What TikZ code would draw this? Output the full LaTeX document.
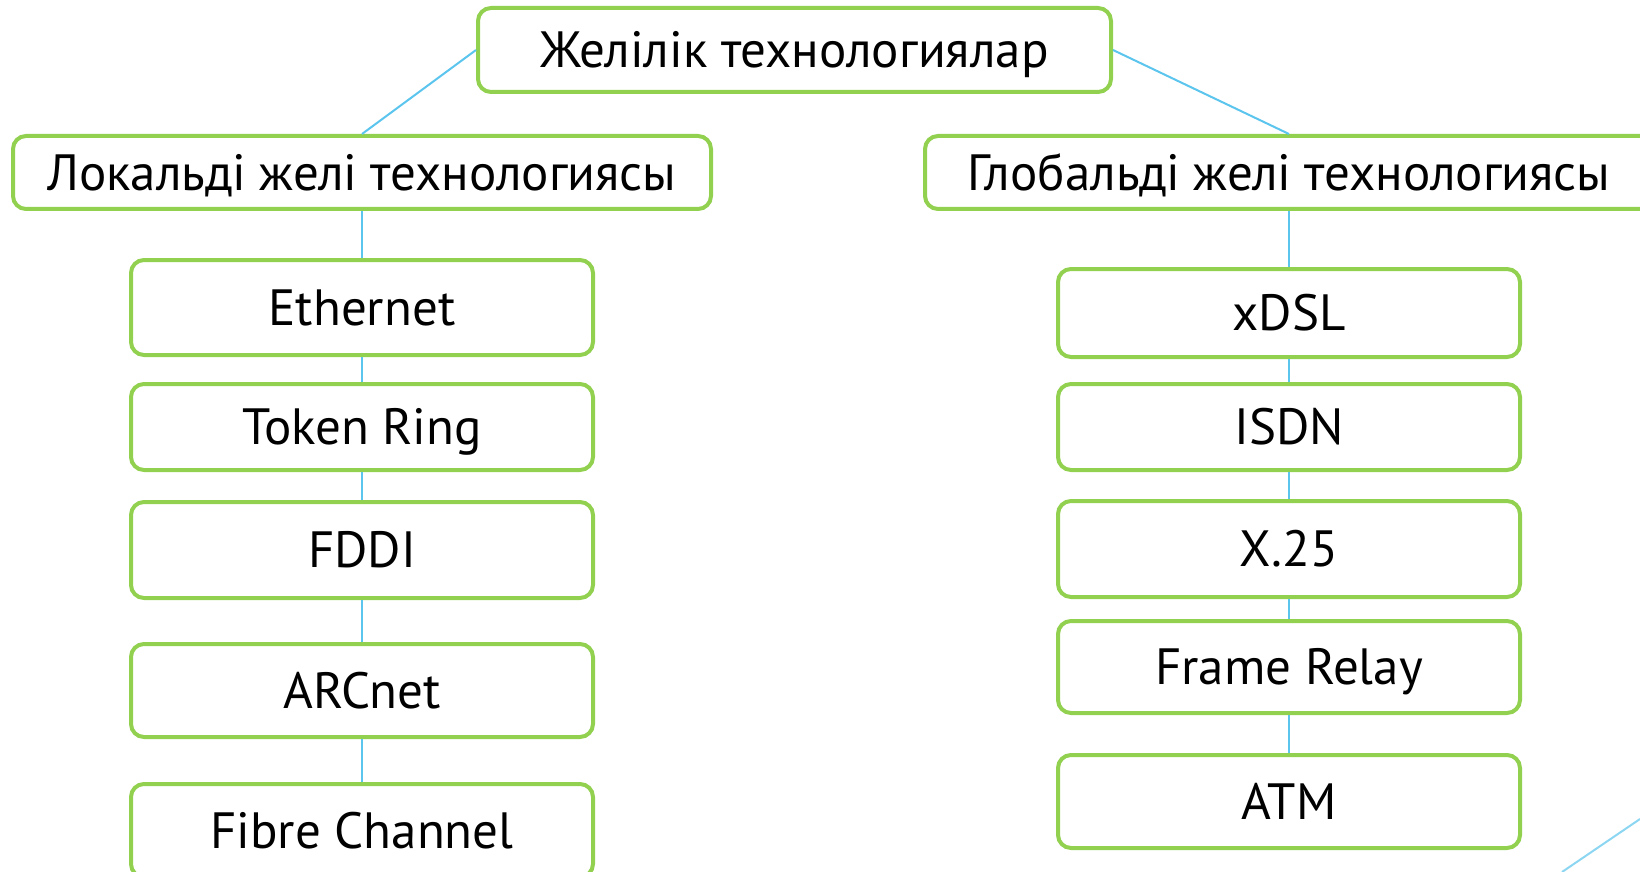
\documentclass[tikz,border=0pt]{standalone}
\usepackage{fontspec}
\setmainfont{PT Sans}
\usepackage{xcolor}
\definecolor{boxgreen}{RGB}{146,208,80}
\definecolor{linkblue}{RGB}{91,197,238}
\definecolor{decoblue}{RGB}{140,214,242}

\begin{document}
\begin{tikzpicture}[x=0.5pt,y=0.5pt,yscale=-1,xscale=1,
  techbox/.style={draw=boxgreen, line width=2pt, rounded corners=6.5pt, fill=white,
    font=\fontsize{25.5}{30}\selectfont, text height=17.8pt, text depth=0pt, inner sep=0pt},
  colbox/.style={techbox, minimum width=231pt},
  link/.style={draw=linkblue, line width=1pt}]
\useasboundingbox (0,0) rectangle (1640,872);
\clip (0,0) rectangle (1640,872);

%Shape: Rounded Rectangle [root]
\node [techbox, minimum width=316.5pt, minimum height=42pt] (zhel) at (794.5,50) {Желілік технологиялар};
%Shape: Rounded Rectangle [level 2]
\node [techbox, minimum width=349pt, minimum height=36.5pt] (lokal) at (362,172.5) {Локальді желі технологиясы};
\node [techbox, minimum width=364pt, minimum height=36.5pt] (global) at (1289,172.5) {Глобальді желі технологиясы};

%Shape: Rounded Rectangle [local column]
\node [colbox, minimum height=47.5pt] (eth) at (362,307.5) {Ethernet};
\node [colbox, minimum height=43pt] (token) at (362,427) {Token Ring};
\node [colbox, minimum height=48pt] (fddi) at (362,550) {FDDI};
\node [colbox, minimum height=46.5pt] (arc) at (362,690.5) {ARCnet};
\node [colbox, minimum height=46.5pt] (fibre) at (362,830.5) {Fibre Channel};

%Shape: Rounded Rectangle [global column]
\node [colbox, minimum height=44pt] (xdsl) at (1289,313) {xDSL};
\node [colbox, minimum height=43pt] (isdn) at (1289,427) {ISDN};
\node [colbox, minimum height=48pt] (xtf) at (1289,549) {X.25};
\node [colbox, minimum height=46pt] (frame) at (1289,667) {Frame Relay};
\node [colbox, minimum height=46.5pt] (atm) at (1289,801.5) {ATM};

%Straight Lines
\draw [link] (zhel.west) -- (lokal.north);
\draw [link] (zhel.east) -- (global.north);
\draw [link] (lokal.south) -- (eth.north);
\draw [link] (eth.south) -- (token.north);
\draw [link] (token.south) -- (fddi.north);
\draw [link] (fddi.south) -- (arc.north);
\draw [link] (arc.south) -- (fibre.north);
\draw [link] (global.south) -- (xdsl.north);
\draw [link] (xdsl.south) -- (isdn.north);
\draw [link] (isdn.south) -- (xtf.north);
\draw [link] (xtf.south) -- (frame.north);
\draw [link] (frame.south) -- (atm.north);

%Straight Lines [corner]
\draw [decoblue, line width=1pt] (1562,872) -- (1640,819);

\end{tikzpicture}
\end{document}
